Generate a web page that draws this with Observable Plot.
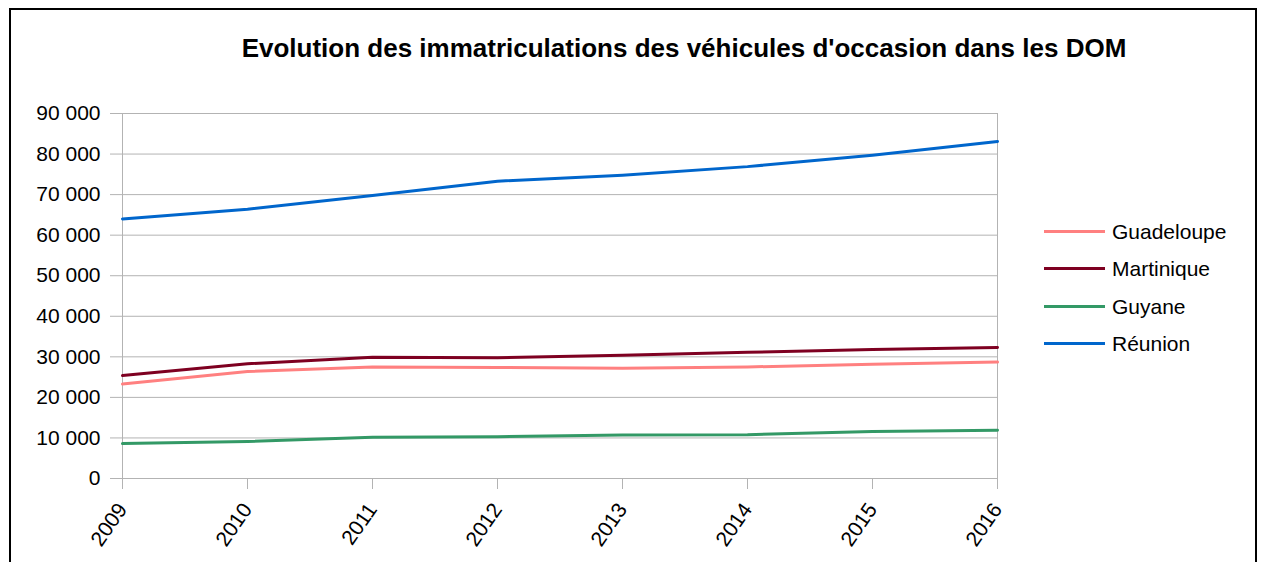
<!DOCTYPE html>
<html><head><meta charset="utf-8">
<script src="https://cdn.jsdelivr.net/npm/d3@7"></script>
<script src="https://cdn.jsdelivr.net/npm/@observablehq/plot@0.6"></script>
<style>
body{margin:0;width:1261px;height:562px;overflow:hidden;background:#fff;font-family:"Liberation Sans",Arial,sans-serif;}
#wrap{position:relative;width:1261px;height:562px;overflow:hidden;}
#frame{position:absolute;left:9px;top:8px;width:1248px;height:620px;border:2px solid #000;box-sizing:border-box;z-index:2;pointer-events:none;}
#title{position:absolute;left:0;top:35px;width:1368px;text-align:center;font-weight:bold;font-size:26px;line-height:26px;color:#000;white-space:nowrap;}
#chart{position:absolute;left:0;top:0;}
.leg-line{position:absolute;height:3px;}
.leg-text{position:absolute;font-size:21px;line-height:21px;color:#000;white-space:nowrap;}
</style></head>
<body><div id="wrap"><div id="frame"></div><div id="title">Evolution des immatriculations des véhicules d'occasion dans les DOM</div><div id="chart"></div><div id="legend"></div></div>
<script>
const years = [2009, 2010, 2011, 2012, 2013, 2014, 2015, 2016];
const seriesNames = ["Guadeloupe", "Martinique", "Guyane", "Réunion"];
const seriesColors = ["#ff8080", "#7e0021", "#339966", "#0066cc"];
const guadeloupe = [23300, 26400, 27500, 27400, 27200, 27500, 28200, 28700];
const martinique = [25400, 28300, 29900, 29800, 30400, 31100, 31800, 32300];
const guyane = [8600, 9100, 10150, 10300, 10700, 10800, 11600, 11900];
const reunion = [64000, 66400, 69800, 73300, 74800, 76900, 79700, 83100];
const yTicks = [0, 10000, 20000, 30000, 40000, 50000, 60000, 70000, 80000, 90000];

const seriesValues = [guadeloupe, martinique, guyane, reunion];
const rows = [];
seriesNames.forEach((s, i) => years.forEach((y, j) => rows.push({series: s, year: y, value: seriesValues[i][j]})));
const fmt = d => d3.format(",")(d).replace(/,/g, " ");

const chart = Plot.plot({
  width: 1261, height: 562,
  marginLeft: 122, marginRight: 264, marginTop: 113, marginBottom: 84,
  style: {fontFamily: "'Liberation Sans', Arial, sans-serif", fontSize: "21px", background: "transparent", color: "#000"},
  x: {type: "linear", domain: [2009, 2016]},
  y: {domain: [0, 90000]},
  color: {domain: seriesNames, range: seriesColors},
  marks: [
    Plot.ruleY(yTicks, {stroke: "#b3b3b3", strokeWidth: 1}),
    Plot.ruleX([years[0], years[years.length - 1]], {stroke: "#b3b3b3", strokeWidth: 1}),
    Plot.axisY({ticks: yTicks, tickSize: 12, tickPadding: 10, tickFormat: fmt, stroke: "#b3b3b3", fill: "#000", fontSize: 21, label: null}),
    Plot.axisX({ticks: years, tickSize: 11, tickPadding: 16, tickRotate: -55, tickFormat: d => String(d), stroke: "#b3b3b3", fill: "#000", fontSize: 21, label: null}),
    Plot.line(rows, {x: "year", y: "value", z: "series", stroke: "series", strokeWidth: 3, strokeLinejoin: "round"})
  ]
});
document.getElementById("chart").appendChild(chart);

const leg = document.getElementById("legend");
const legY = [231, 268, 306, 343];
seriesNames.forEach((s, i) => {
  const l = document.createElement("div");
  l.className = "leg-line";
  l.style.left = "1044px"; l.style.width = "61px"; l.style.top = (legY[i] - 1.5) + "px";
  l.style.background = seriesColors[i];
  leg.appendChild(l);
  const t = document.createElement("div");
  t.className = "leg-text";
  t.style.left = "1112px"; t.style.top = (legY[i] - 10) + "px";
  t.textContent = s;
  leg.appendChild(t);
});
</script>
</body></html>
